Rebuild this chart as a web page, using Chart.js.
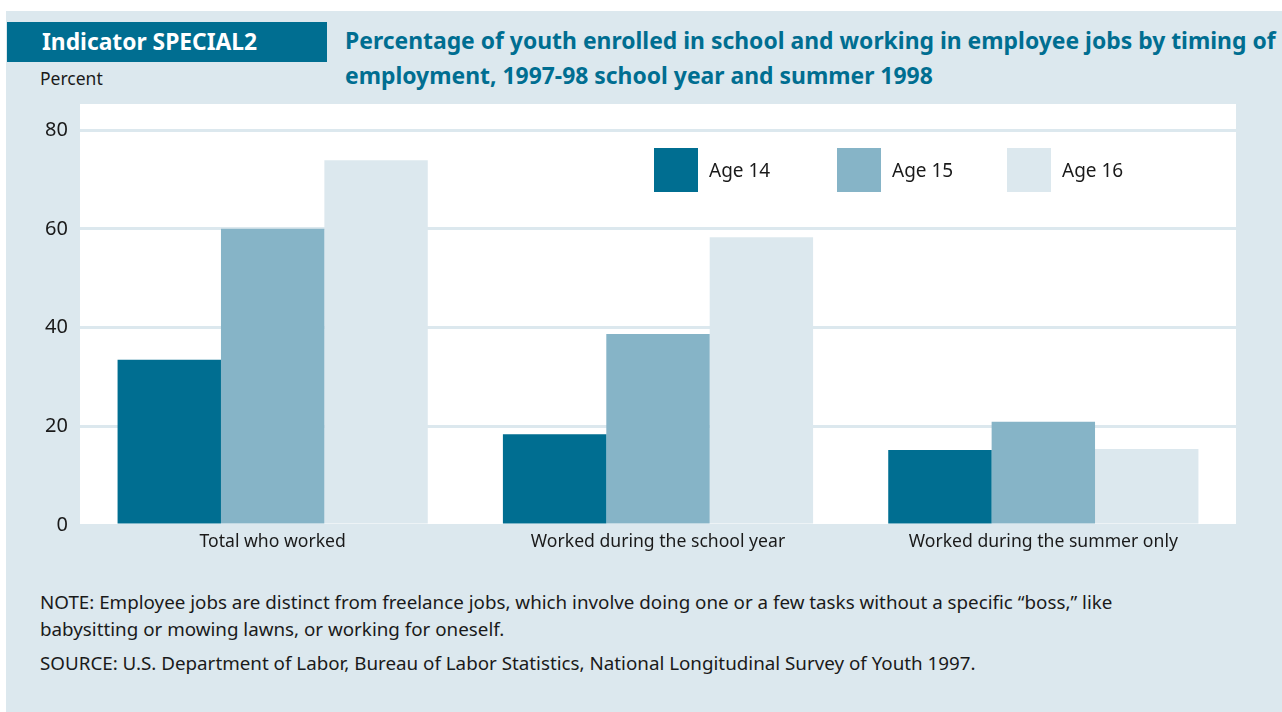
<!DOCTYPE html>
<html>
<head>
<meta charset="utf-8">
<script src="https://cdn.jsdelivr.net/npm/chart.js@4"></script>
<style>
  html, body { margin: 0; padding: 0; background: #fff; }
  body { width: 1282px; height: 712px; position: relative; overflow: hidden; font-family: "Noto Sans", sans-serif; color: #1a1a1a; }
  #panel { position: absolute; left: 6px; top: 11px; width: 1276px; height: 701px; background: #dce8ee; }
  #badge { position: absolute; left: 7px; top: 22px; width: 320px; height: 40px; background: #006e91; color: #fff; font-weight: bold; font-size: 22.8px; line-height: 40px; box-sizing: border-box; padding-left: 35px; }
  #title { position: absolute; left: 345px; top: 23px; width: 960px; color: #006e91; font-weight: bold; font-size: 22.9px; line-height: 35px; }
  #ylab { position: absolute; left: 40px; top: 66px; font-size: 17.5px; }
  #notes { position: absolute; left: 40px; top: 589px; font-size: 18.8px; line-height: 27px; }
  #notes p { margin: 0 0 7px 0; }
  #legend { position: absolute; left: 654px; top: 148px; height: 44px; z-index: 2; }
  .li { position: absolute; top: 0; height: 44px; display: flex; align-items: center; font-size: 19px; white-space: nowrap; }
  .li span.sw { display: inline-block; width: 44px; height: 44px; margin-right: 11px; }
  canvas { position: absolute; left: 0; top: 0; z-index: 1; }
</style>
</head>
<body>
<div id="panel"></div>
<div id="badge">Indicator SPECIAL2</div>
<div id="title">Percentage of youth enrolled in school and working in employee jobs by timing of<br>employment, 1997-98 school year and summer 1998</div>
<div id="ylab">Percent</div>
<div id="legend"></div>
<div id="notes">
  <p>NOTE: Employee jobs are distinct from freelance jobs, which involve doing one or a few tasks without a specific “boss,” like<br>babysitting or mowing lawns, or working for oneself.</p>
  <p>SOURCE: U.S. Department of Labor, Bureau of Labor Statistics, National Longitudinal Survey of Youth 1997.</p>
</div>
<canvas id="c" width="1282" height="712"></canvas>
<script>
var categories = ["Total who worked", "Worked during the school year", "Worked during the summer only"];
var seriesLabels = ["Age 14", "Age 15", "Age 16"];
var age14 = [33.5, 18.4, 15.2];
var age15 = [60.0, 38.7, 20.9];
var age16 = [73.9, 58.3, 15.4];
var yTicks = [0, 20, 40, 60, 80];
var colors = ["#006e91", "#86b4c7", "#dce8ee"];

var whiteArea = {
  id: 'whiteArea',
  beforeDraw: function(chart) {
    var a = chart.chartArea, ctx = chart.ctx;
    ctx.save();
    ctx.fillStyle = '#ffffff';
    ctx.fillRect(a.left, a.top, a.right - a.left, a.bottom - a.top);
    ctx.restore();
  }
};

var values = [age14, age15, age16];
var datasets = seriesLabels.map(function(lab, i) {
  return { label: lab, data: values[i], backgroundColor: colors[i], borderWidth: 0,
           categoryPercentage: 0.805, barPercentage: 1.0 };
});

// legend in html
var legend = document.getElementById('legend');
var legendX = [0, 183, 353];
seriesLabels.forEach(function(lab, i) {
  var d = document.createElement('div');
  d.className = 'li';
  d.style.left = legendX[i] + 'px';
  d.innerHTML = '<span class="sw" style="background:' + colors[i] + '"></span>' + lab;
  legend.appendChild(d);
});

Chart.defaults.font.family = '"Noto Sans", sans-serif';
Chart.defaults.color = '#1a1a1a';

new Chart(document.getElementById('c'), {
  type: 'bar',
  data: { labels: categories, datasets: datasets },
  options: {
    responsive: false,
    animation: false,
    layout: { padding: { top: 104, right: 46, bottom: 157, left: 0 } },
    plugins: { legend: { display: false }, tooltip: { enabled: false } },
    scales: {
      x: {
        grid: { display: false },
        border: { display: false },
        ticks: { font: { size: 17.6 }, padding: -2, color: '#1a1a1a' },
        afterFit: function(s) { s.height = 30; }
      },
      y: {
        min: 0, max: 85.3,
        grid: { color: '#dce8ee', lineWidth: 3, drawTicks: false },
        border: { display: false },
        ticks: { stepSize: 20, includeBounds: false, font: { size: 20 }, padding: 12, color: '#1a1a1a',
                 callback: function(v) { return yTicks.indexOf(v) >= 0 ? v : ''; } },
        afterFit: function(s) { s.width = 80; }
      }
    }
  },
  plugins: [whiteArea]
});
</script>
</body>
</html>
